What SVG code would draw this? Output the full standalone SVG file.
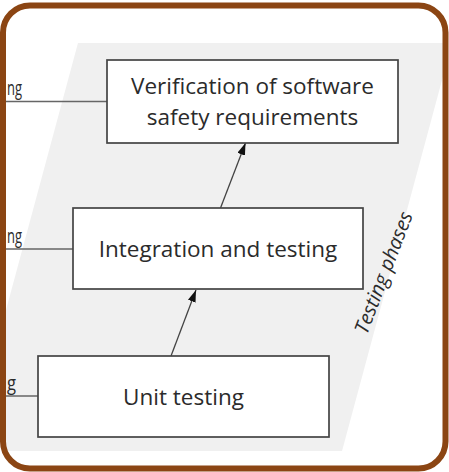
<svg xmlns="http://www.w3.org/2000/svg" width="449" height="472" viewBox="0 0 449 472">
  <defs>
    <style>
      .box { fill: #ffffff; stroke: #444444; stroke-width: 1.7; }
      .label { font-family: "Open Sans", "Liberation Sans", sans-serif; font-size: 22.5px; fill: #2b2b2b; text-anchor: middle; }
      .side { font-family: "Open Sans", "Liberation Sans", sans-serif; font-size: 20px; fill: #2b2b2b; }
      .tie { stroke: #666666; stroke-width: 1.3; fill: none; }
      .flow { stroke: #444444; stroke-width: 1.3; fill: none; marker-end: url(#head); }
      .phase { font-family: "Open Sans", "Liberation Sans", sans-serif; font-size: 20px; font-style: italic; fill: #2b2b2b; text-anchor: middle; }
    </style>
    <marker id="head" viewBox="0 0 12 8" refX="12" refY="4" markerWidth="12" markerHeight="8" markerUnits="userSpaceOnUse" orient="auto">
      <path d="M0,0 L12,4 L0,8 Z" fill="#111111"/>
    </marker>
    <clipPath id="inner">
      <rect x="3" y="5.5" width="442.5" height="463" rx="27" ry="27"/>
    </clipPath>
  </defs>

  <rect x="0" y="0" width="449" height="472" fill="#ffffff"/>

  <!-- slanted band behind the testing phases -->
  <g id="phase-band" clip-path="url(#inner)">
    <polygon points="78,43 452,43 342,451 -32,451" fill="#f0f0f0"/>
  </g>

  <!-- ties running off the left edge -->
  <g id="ties">
    <line class="tie" x1="0" y1="101.5" x2="107" y2="101.5"/>
    <line class="tie" x1="0" y1="249" x2="73" y2="249"/>
    <line class="tie" x1="0" y1="396" x2="38" y2="396"/>
    <text class="side" x="7" y="95" textLength="15" lengthAdjust="spacingAndGlyphs">ng</text>
    <text class="side" x="7" y="243" textLength="15" lengthAdjust="spacingAndGlyphs">ng</text>
    <text class="side" x="7" y="390" textLength="9" lengthAdjust="spacingAndGlyphs">g</text>
  </g>

  <!-- connectors between phases -->
  <g id="connectors">
    <line class="flow" x1="171" y1="356" x2="196" y2="290"/>
    <line class="flow" x1="220.5" y1="208" x2="245.5" y2="143"/>
  </g>

  <g id="node-verification">
    <rect class="box" x="107" y="60" width="291" height="83"/>
    <text class="label" x="252.5" y="94">Verification of software</text>
    <text class="label" x="252.5" y="125">safety requirements</text>
  </g>

  <g id="node-integration">
    <rect class="box" x="73" y="208" width="290" height="81"/>
    <text class="label" x="218" y="257">Integration and testing</text>
  </g>

  <g id="node-unit">
    <rect class="box" x="38" y="356" width="291" height="81"/>
    <text class="label" x="183.5" y="405">Unit testing</text>
  </g>

  <g id="phase-label">
    <text class="phase" transform="translate(390,275) rotate(-69)">Testing phases</text>
  </g>

  <!-- frame -->
  <rect x="3" y="5.5" width="442.5" height="463" rx="27" ry="27" fill="none" stroke="#8b4513" stroke-width="6"/>
</svg>
